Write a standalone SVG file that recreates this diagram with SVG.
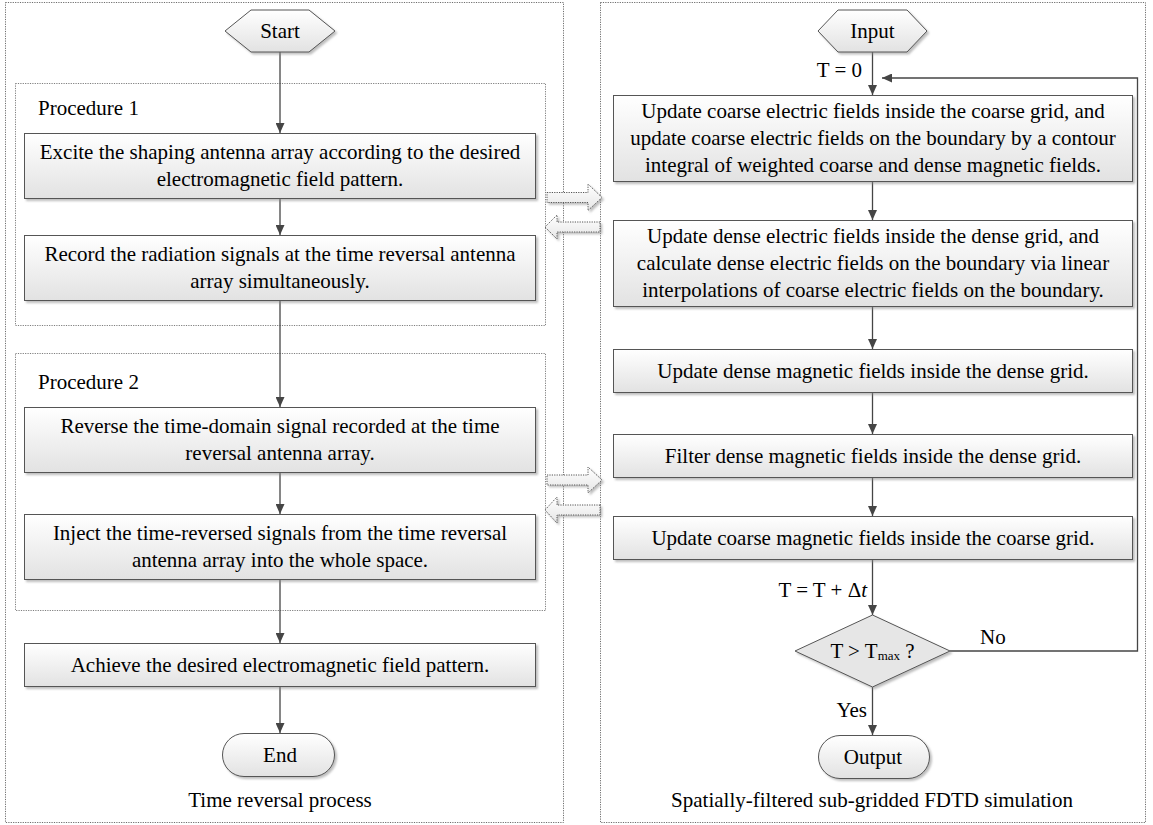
<svg xmlns="http://www.w3.org/2000/svg" width="1153" height="825" viewBox="0 0 1153 825">
<style>
.panel{fill:#ffffff;stroke:#6e6e6e;stroke-width:1;stroke-dasharray:1.2 1.2}
.proc{fill:none;stroke:#7e7e7e;stroke-width:1;stroke-dasharray:1.2 1.2}
.box{fill:url(#g);stroke:#555555;stroke-width:1;filter:url(#sh)}
.t{font-family:"Liberation Serif","Times New Roman",serif;font-size:21px;fill:#000}
.c{text-anchor:middle}
.r{text-anchor:end}
.conn{fill:none;stroke:#454545;stroke-width:1.3}
.hollow{fill:url(#hg);stroke:#555555;stroke-width:1;stroke-dasharray:1.2 1.2;filter:url(#sh)}
</style>
<defs>
<linearGradient id="g" x1="0" y1="0" x2="0" y2="1">
<stop offset="0" stop-color="#ffffff"/>
<stop offset="1" stop-color="#e2e2e2"/>
</linearGradient>
<linearGradient id="hg" x1="0" y1="0" x2="0" y2="1">
<stop offset="0" stop-color="#ffffff"/>
<stop offset="1" stop-color="#e6e6e6"/>
</linearGradient>
<filter id="sh" x="-10%" y="-20%" width="120%" height="150%">
<feDropShadow dx="2" dy="2" stdDeviation="1" flood-color="#888" flood-opacity="0.55"/>
</filter>
<marker id="ah" markerUnits="userSpaceOnUse" markerWidth="10" markerHeight="9" refX="10" refY="4.5" orient="auto">
<path d="M0,0 L10,4.5 L0,9 z" fill="#454545"/>
</marker>
</defs>

<g id="panels">
<rect class="panel" x="5.5" y="2.5" width="558" height="820"/>
<rect class="panel" x="600.5" y="2.5" width="545" height="820"/>
<rect class="proc" x="15.5" y="83.5" width="530" height="242"/>
<rect class="proc" x="15.5" y="353.5" width="530" height="257"/>
<text class="t" x="38" y="115">Procedure 1</text>
<text class="t" x="38" y="389">Procedure 2</text>
<text class="t c" x="280" y="807">Time reversal process</text>
<text class="t c" x="872" y="807">Spatially-filtered sub-gridded FDTD simulation</text>
</g>

<g id="connectors">
<line class="conn" x1="280" y1="52" x2="280" y2="133" marker-end="url(#ah)"/>
<line class="conn" x1="280" y1="198" x2="280" y2="235" marker-end="url(#ah)"/>
<line class="conn" x1="280" y1="300" x2="280" y2="407" marker-end="url(#ah)"/>
<line class="conn" x1="280" y1="472" x2="280" y2="514" marker-end="url(#ah)"/>
<line class="conn" x1="280" y1="579" x2="280" y2="643" marker-end="url(#ah)"/>
<line class="conn" x1="280" y1="686" x2="280" y2="733" marker-end="url(#ah)"/>
<line class="conn" x1="872.5" y1="52" x2="872.5" y2="95" marker-end="url(#ah)"/>
<line class="conn" x1="872.5" y1="181" x2="872.5" y2="220" marker-end="url(#ah)"/>
<line class="conn" x1="872.5" y1="306" x2="872.5" y2="349" marker-end="url(#ah)"/>
<line class="conn" x1="872.5" y1="392" x2="872.5" y2="434" marker-end="url(#ah)"/>
<line class="conn" x1="872.5" y1="477" x2="872.5" y2="516" marker-end="url(#ah)"/>
<line class="conn" x1="872.5" y1="559" x2="872.5" y2="615" marker-end="url(#ah)"/>
<line class="conn" x1="872.5" y1="687" x2="872.5" y2="735" marker-end="url(#ah)"/>
<polyline class="conn" points="950,651 1137.5,651 1137.5,78 882,78" marker-end="url(#ah)"/>
<text class="t r" x="862" y="77">T = 0</text>
<text class="t r" x="867" y="597">T = T + Δ<tspan font-style="italic">t</tspan></text>
<text class="t" x="980" y="644">No</text>
<text class="t r" x="867" y="717">Yes</text>
<path class="hollow" d="M547,192.5 L588,192.5 L588,184 L602,197.5 L588,210.5 L588,202.5 L547,202.5 z"/>
<path class="hollow" d="M600,222 L557,222 L557,215 L545,227 L557,239 L557,232 L600,232 z"/>
<path class="hollow" d="M547,475 L588,475 L588,467 L602,480 L588,493 L588,485 L547,485 z"/>
<path class="hollow" d="M600,505 L557,505 L557,497 L545,510 L557,523 L557,515 L600,515 z"/>
</g>

<g id="start">
<polygon class="box" points="225,31 251,10 309,10 335,31 309,52 251,52"/>
<text class="t c" x="280" y="38">Start</text>
</g>
<g id="excite">
<rect class="box" x="24.5" y="133.5" width="511" height="65"/>
<text class="t c" x="280" y="159">Excite the shaping antenna array according to the desired</text>
<text class="t c" x="280" y="186">electromagnetic field pattern.</text>
</g>
<g id="record">
<rect class="box" x="24.5" y="235.5" width="511" height="65"/>
<text class="t c" x="280" y="261">Record the radiation signals at the time reversal antenna</text>
<text class="t c" x="280" y="288">array simultaneously.</text>
</g>
<g id="reverse">
<rect class="box" x="24.5" y="407.5" width="511" height="65"/>
<text class="t c" x="280" y="433">Reverse the time-domain signal recorded at the time</text>
<text class="t c" x="280" y="460">reversal antenna array.</text>
</g>
<g id="inject">
<rect class="box" x="24.5" y="514.5" width="511" height="65"/>
<text class="t c" x="280" y="540">Inject the time-reversed signals from the time reversal</text>
<text class="t c" x="280" y="567">antenna array into the whole space.</text>
</g>
<g id="achieve">
<rect class="box" x="24.5" y="643.5" width="511" height="43"/>
<text class="t c" x="280" y="672">Achieve the desired electromagnetic field pattern.</text>
</g>
<g id="end">
<rect class="box" x="222.5" y="733.5" width="112" height="43" rx="21.5" ry="21.5"/>
<text class="t c" x="280" y="762">End</text>
</g>

<g id="input">
<polygon class="box" points="818,31 838,10 907,10 927,31 907,52 838,52"/>
<text class="t c" x="872.5" y="38">Input</text>
</g>
<g id="r1">
<rect class="box" x="613.5" y="95.5" width="519" height="86"/>
<text class="t c" x="873" y="118">Update coarse electric fields inside the coarse grid, and</text>
<text class="t c" x="873" y="145">update coarse electric fields on the boundary by a contour</text>
<text class="t c" x="873" y="172">integral of weighted coarse and dense magnetic fields.</text>
</g>
<g id="r2">
<rect class="box" x="613.5" y="220.5" width="519" height="86"/>
<text class="t c" x="873" y="243">Update dense electric fields inside the dense grid, and</text>
<text class="t c" x="873" y="270">calculate dense electric fields on the boundary via linear</text>
<text class="t c" x="873" y="297">interpolations of coarse electric fields on the boundary.</text>
</g>
<g id="r3">
<rect class="box" x="613.5" y="349.5" width="519" height="43"/>
<text class="t c" x="873" y="378">Update dense magnetic fields inside the dense grid.</text>
</g>
<g id="r4">
<rect class="box" x="613.5" y="434.5" width="519" height="43"/>
<text class="t c" x="873" y="463">Filter dense magnetic fields inside the dense grid.</text>
</g>
<g id="r5">
<rect class="box" x="613.5" y="516.5" width="519" height="43"/>
<text class="t c" x="873" y="545">Update coarse magnetic fields inside the coarse grid.</text>
</g>
<g id="decision">
<polygon class="box" points="872.5,615 950,651 872.5,687 795,651" style="fill:#e6e6e6"/>
<text class="t c" x="872.5" y="658">T &gt; T<tspan font-size="13" dy="2">max</tspan><tspan dy="-2"> ?</tspan></text>
</g>
<g id="output">
<rect class="box" x="818.5" y="735.5" width="111" height="43" rx="21.5" ry="21.5"/>
<text class="t c" x="873" y="764">Output</text>
</g>
</svg>
